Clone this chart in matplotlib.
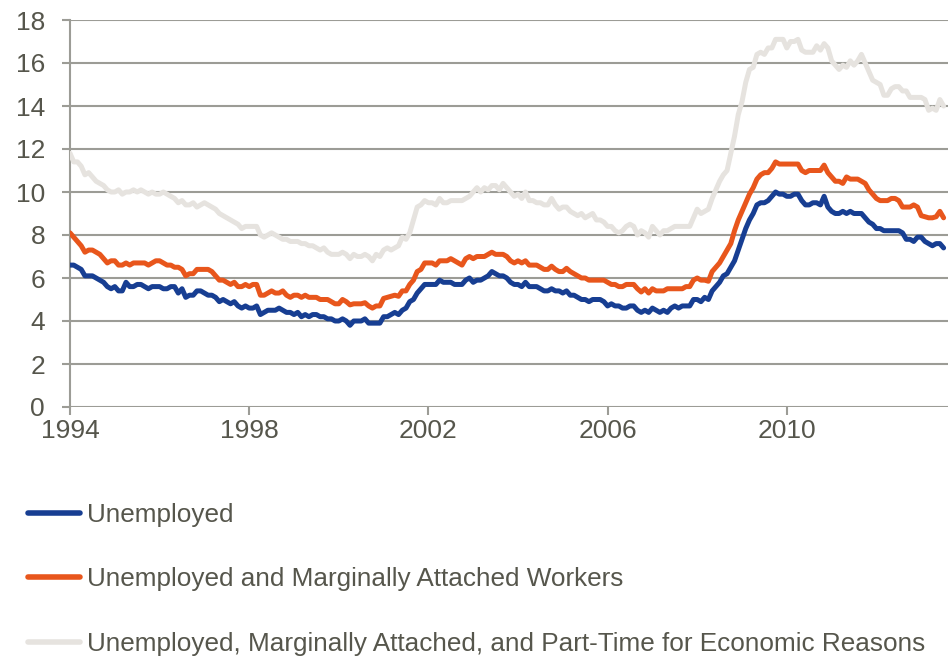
import numpy as np
import matplotlib
matplotlib.use("Agg")
import matplotlib.pyplot as plt

# Monthly series, Jan 1994 - Jul 2013 (percent)
start_year = 1994
unemployed = [
    6.6, 6.6, 6.5, 6.4, 6.1, 6.1, 6.1, 6.0, 5.9, 5.8, 5.6, 5.5,
    5.6, 5.4, 5.4, 5.8, 5.6, 5.6, 5.7, 5.7, 5.6, 5.5, 5.6, 5.6,
    5.6, 5.5, 5.5, 5.6, 5.6, 5.3, 5.5, 5.1, 5.2, 5.2, 5.4, 5.4,
    5.3, 5.2, 5.2, 5.1, 4.9, 5.0, 4.9, 4.8, 4.9, 4.7, 4.6, 4.7,
    4.6, 4.6, 4.7, 4.3, 4.4, 4.5, 4.5, 4.5, 4.6, 4.5, 4.4, 4.4,
    4.3, 4.4, 4.2, 4.3, 4.2, 4.3, 4.3, 4.2, 4.2, 4.1, 4.1, 4.0,
    4.0, 4.1, 4.0, 3.8, 4.0, 4.0, 4.0, 4.1, 3.9, 3.9, 3.9, 3.9,
    4.2, 4.2, 4.3, 4.4, 4.3, 4.5, 4.6, 4.9, 5.0, 5.3, 5.5, 5.7,
    5.7, 5.7, 5.7, 5.9, 5.8, 5.8, 5.8, 5.7, 5.7, 5.7, 5.9, 6.0,
    5.8, 5.9, 5.9, 6.0, 6.1, 6.3, 6.2, 6.1, 6.1, 6.0, 5.8, 5.7,
    5.7, 5.6, 5.8, 5.6, 5.6, 5.6, 5.5, 5.4, 5.4, 5.5, 5.4, 5.4,
    5.3, 5.4, 5.2, 5.2, 5.1, 5.0, 5.0, 4.9, 5.0, 5.0, 5.0, 4.9,
    4.7, 4.8, 4.7, 4.7, 4.6, 4.6, 4.7, 4.7, 4.5, 4.4, 4.5, 4.4,
    4.6, 4.5, 4.4, 4.5, 4.4, 4.6, 4.7, 4.6, 4.7, 4.7, 4.7, 5.0,
    5.0, 4.9, 5.1, 5.0, 5.4, 5.6, 5.8, 6.1, 6.2, 6.5, 6.8, 7.3,
    7.8, 8.3, 8.7, 9.0, 9.4, 9.5, 9.5, 9.6, 9.8, 10.0, 9.9, 9.9,
    9.8, 9.8, 9.9, 9.9, 9.6, 9.4, 9.4, 9.5, 9.5, 9.4, 9.8, 9.3,
    9.1, 9.0, 9.0, 9.1, 9.0, 9.1, 9.0, 9.0, 9.0, 8.8, 8.6, 8.5,
    8.3, 8.3, 8.2, 8.2, 8.2, 8.2, 8.2, 8.1, 7.8, 7.8, 7.7, 7.9,
    7.9, 7.7, 7.6, 7.5, 7.6, 7.6, 7.4,
]
marginally_attached = [
    8.1, 7.9, 7.7, 7.5, 7.2, 7.3, 7.3, 7.2, 7.1, 6.9, 6.7, 6.8,
    6.8, 6.6, 6.6, 6.7, 6.6, 6.7, 6.7, 6.7, 6.7, 6.6, 6.7, 6.8,
    6.8, 6.7, 6.6, 6.6, 6.5, 6.5, 6.4, 6.1, 6.2, 6.2, 6.4, 6.4,
    6.4, 6.4, 6.3, 6.1, 5.9, 5.9, 5.8, 5.7, 5.8, 5.6, 5.6, 5.7,
    5.6, 5.7, 5.7, 5.2, 5.2, 5.3, 5.4, 5.3, 5.3, 5.4, 5.2, 5.1,
    5.2, 5.2, 5.1, 5.2, 5.1, 5.1, 5.1, 5.0, 5.0, 5.0, 4.9, 4.8,
    4.8, 5.0, 4.9, 4.75, 4.8, 4.8, 4.8, 4.85, 4.7, 4.6, 4.7, 4.7,
    5.05, 5.1, 5.15, 5.2, 5.15, 5.4, 5.4, 5.7, 5.9, 6.3, 6.4, 6.7,
    6.7, 6.7, 6.6, 6.8, 6.8, 6.8, 6.9, 6.8, 6.7, 6.6, 6.9, 7.0,
    6.9, 7.0, 7.0, 7.0, 7.1, 7.2, 7.1, 7.1, 7.1, 7.0, 6.8, 6.7,
    6.8, 6.7, 6.8, 6.6, 6.6, 6.6, 6.5, 6.4, 6.4, 6.55, 6.4, 6.3,
    6.3, 6.45, 6.3, 6.2, 6.1, 6.0, 6.0, 5.9, 5.9, 5.9, 5.9, 5.9,
    5.8, 5.7, 5.7, 5.6, 5.6, 5.7, 5.7, 5.7, 5.5, 5.35, 5.5, 5.3,
    5.5, 5.4, 5.4, 5.4, 5.5, 5.5, 5.5, 5.5, 5.5, 5.6, 5.6, 5.9,
    6.0, 5.9, 5.9, 5.85, 6.3, 6.5, 6.7, 7.0, 7.3, 7.6, 8.2, 8.7,
    9.1, 9.5, 9.9, 10.2, 10.6, 10.8, 10.9, 10.9, 11.1, 11.4, 11.3, 11.3,
    11.3, 11.3, 11.3, 11.3, 11.0, 10.9, 11.0, 11.0, 11.0, 11.0, 11.25, 10.9,
    10.7, 10.5, 10.5, 10.4, 10.7, 10.6, 10.6, 10.6, 10.5, 10.4, 10.1, 9.9,
    9.7, 9.6, 9.6, 9.6, 9.7, 9.7, 9.6, 9.3, 9.3, 9.3, 9.4, 9.3,
    8.9, 8.85, 8.8, 8.8, 8.85, 9.1, 8.8,
]
part_time = [
    11.8, 11.4, 11.4, 11.2, 10.8, 10.9, 10.7, 10.5, 10.4, 10.3, 10.1, 10.0,
    10.0, 10.1, 9.9, 10.0, 10.0, 10.1, 10.0, 10.1, 10.0, 9.9, 10.0, 9.9,
    9.9, 10.0, 9.9, 9.8, 9.7, 9.5, 9.6, 9.4, 9.4, 9.5, 9.3, 9.4,
    9.5, 9.4, 9.3, 9.2, 9.0, 8.9, 8.8, 8.7, 8.6, 8.5, 8.3, 8.4,
    8.4, 8.4, 8.4, 8.0, 7.9, 8.0, 8.1, 8.0, 7.9, 7.8, 7.8, 7.7,
    7.7, 7.7, 7.6, 7.6, 7.5, 7.5, 7.4, 7.3, 7.4, 7.2, 7.1, 7.1,
    7.1, 7.2, 7.1, 6.9, 7.1, 7.0, 7.0, 7.1, 7.0, 6.8, 7.1, 7.0,
    7.3, 7.4, 7.3, 7.4, 7.5, 7.9, 7.8, 8.1, 8.7, 9.3, 9.4, 9.6,
    9.5, 9.5, 9.4, 9.7, 9.5, 9.5, 9.6, 9.6, 9.6, 9.6, 9.7, 9.8,
    10.0, 10.2, 10.0, 10.2, 10.1, 10.3, 10.3, 10.1, 10.4, 10.2, 10.0, 9.8,
    9.9, 9.7, 10.0, 9.6, 9.6, 9.5, 9.5, 9.4, 9.4, 9.7, 9.4, 9.2,
    9.3, 9.3, 9.1, 9.0, 8.9, 9.0, 8.8, 8.9, 9.0, 8.7, 8.7, 8.6,
    8.4, 8.4, 8.2, 8.1, 8.2, 8.4, 8.5, 8.4, 8.0, 8.2, 8.1, 7.9,
    8.4, 8.2, 8.0, 8.2, 8.2, 8.3, 8.4, 8.4, 8.4, 8.4, 8.4, 8.8,
    9.2, 9.0, 9.1, 9.2, 9.7, 10.1, 10.5, 10.8, 11.0, 11.8, 12.6, 13.6,
    14.2, 15.1, 15.7, 15.8, 16.4, 16.5, 16.4, 16.7, 16.7, 17.1, 17.1, 17.1,
    16.7, 17.0, 17.0, 17.1, 16.6, 16.5, 16.5, 16.5, 16.8, 16.6, 16.9, 16.7,
    16.1, 15.9, 15.7, 15.9, 15.8, 16.1, 15.9, 16.1, 16.4, 16.0, 15.6, 15.2,
    15.1, 15.0, 14.5, 14.5, 14.8, 14.9, 14.9, 14.7, 14.7, 14.4, 14.4, 14.4,
    14.4, 14.3, 13.8, 13.9, 13.8, 14.3, 14.0,
]
labels = [
    "Unemployed",
    "Unemployed and Marginally Attached Workers",
    "Unemployed, Marginally Attached, and Part-Time for Economic Reasons",
]
x_ticks = [1994, 1998, 2002, 2006, 2010]
y_ticks = list(range(0, 19, 2))

colors = ["#173E92", "#E8561C", "#E6E3DF"]
text_color = "#56564C"
grid_color = "#9C9C96"

plt.rcParams["font.family"] = ["Liberation Sans", "DejaVu Sans"]

fig = plt.figure(figsize=(9.48, 6.56), dpi=100)
ax = fig.add_axes([70 / 948, 1 - 407 / 656, 1 - 70 / 948, (407 - 20) / 656])

t = start_year + np.arange(len(unemployed)) / 12.0
series = [unemployed, marginally_attached, part_time]
lines = []
for vals, c, lab, z in zip(series, colors, labels, [5, 4, 3]):
    ln, = ax.plot(t, vals, color=c, lw=3.6, label=lab, zorder=z,
                  solid_joinstyle="round", solid_capstyle="round")
    lines.append(ln)

ax.set_xlim(1994, 1994 + (948 - 70) / 44.8)
ax.set_ylim(0, 18)
ax.set_xticks(x_ticks)
ax.set_yticks(y_ticks)
ax.yaxis.grid(True, color=grid_color, lw=1.5, zorder=1)
ax.set_axisbelow(True)
for s in ["top", "right", "bottom"]:
    ax.spines[s].set_visible(False)
ax.spines["left"].set_color(grid_color)
ax.spines["left"].set_linewidth(1.5)
ax.tick_params(axis="y", length=6, width=1.5, color=grid_color,
               labelsize=19, labelcolor=text_color, pad=12)
ax.tick_params(axis="x", length=6, width=1.5, color=grid_color,
               labelsize=19, labelcolor=text_color, pad=3)

leg = fig.legend(handles=lines, labels=labels, loc="upper left",
                 bbox_to_anchor=(28 / 948, 1 - 503 / 656), frameon=False,
                 fontsize=18.8, handlelength=2.0, handletextpad=0.27,
                 labelspacing=1.55, borderpad=0, borderaxespad=0)
for txt in leg.get_texts():
    txt.set_color(text_color)
for h in leg.legend_handles:
    h.set_linewidth(4)

fig.savefig("out.png", dpi=100)
